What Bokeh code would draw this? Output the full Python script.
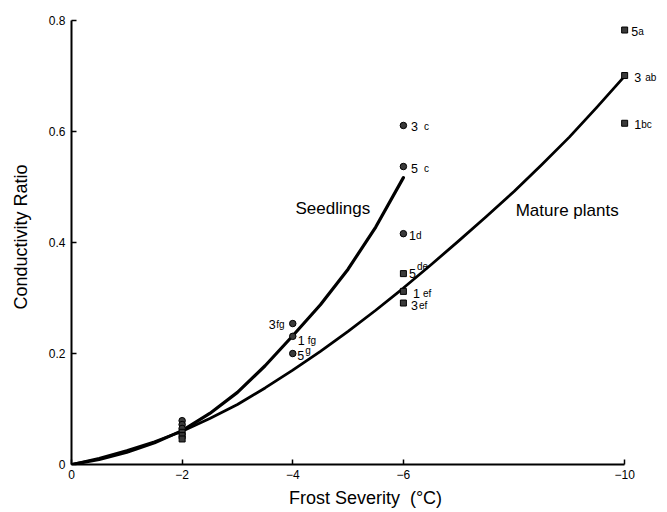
from bokeh.plotting import figure
from bokeh.models import Range1d, FixedTicker, ColumnDataSource, Label
from bokeh.core.properties import value
from bokeh.embed import file_html
from bokeh.resources import INLINE

# ---- data (frost severity magnitude, conductivity ratio) ----
seed_x = [6, 6, 6, 4, 4, 4, 2, 2, 2]
seed_y = [0.611, 0.537, 0.416, 0.254, 0.231, 0.200, 0.079, 0.072, 0.065]
seed_num = ["3", "5", "1", "3", "1", "5"]
seed_grp = ["c", "c", "d", "fg", "fg", "g"]

mature_x = [10, 10, 10, 6, 6, 6, 2, 2, 2]
mature_y = [0.783, 0.701, 0.615, 0.344, 0.312, 0.291, 0.058, 0.052, 0.046]
mature_num = ["5", "3", "1", "5", "1", "3"]
mature_grp = ["a", "ab", "bc", "de", "ef", "ef"]

seed_curve_x = [0, 0.5, 1, 1.5, 2, 2.5, 3, 3.5, 4, 4.5, 5, 5.5, 6]
seed_curve_y = [0, 0.009, 0.022, 0.039, 0.061, 0.092, 0.130, 0.178, 0.232,
                0.288, 0.352, 0.428, 0.517]
mature_curve_x = [0, 0.5, 1, 1.5, 2, 2.5, 3, 3.5, 4, 4.5, 5, 5.5, 6, 6.5, 7,
                  7.5, 8, 8.5, 9, 9.5, 10]
mature_curve_y = [0, 0.011, 0.025, 0.041, 0.060, 0.083, 0.108, 0.138, 0.170,
                  0.204, 0.240, 0.278, 0.318, 0.360, 0.403, 0.447, 0.492,
                  0.540, 0.590, 0.644, 0.700]

x_ticks = [0, 2, 4, 6, 10]
x_tick_labels = ["0", "\u22122", "\u22124", "\u22126", "\u221210"]
y_ticks = [0, 0.2, 0.4, 0.6, 0.8]
y_tick_labels = ["0", "0.2", "0.4", "0.6", "0.8"]

# ---- label offsets in px (number dx, dy, letters dx, dy) ----
label_style = [
    (7.5, 1.5, 20.5, 1.5),   # 3 c
    (7.5, 1.5, 20.5, 1.5),   # 5 c
    (5.5, 1.5, 12.5, 1.5),   # 1 d
    (-24, 1, -16.5, 1),      # 3 fg
    (5, 4.5, 15, 4.5),       # 1 fg
    (4.5, 1.5, 12.5, -3.5),  # 5 g
    (6.5, 1.5, 13.5, 1.5),   # 5 a
    (9.5, 1.5, 20.5, 1.5),   # 3 ab
    (9.5, 1.5, 16.5, 1.5),   # 1 bc
    (5.5, 0, 13.5, -7),      # 5 de
    (9.5, 2, 19.5, 2),       # 1 ef
    (7.5, 2, 15.5, 2),       # 3 ef
]

FONT = value("Liberation Sans")

p = figure(frame_width=588, frame_height=455,
           x_range=Range1d(0, 10.63), y_range=Range1d(0, 0.82),
           output_backend="svg", toolbar_location=None,
           min_border_left=71, min_border_top=9, min_border_right=0,
           min_border_bottom=40)
p.grid.visible = False
p.outline_line_color = None
p.background_fill_color = "white"

for ax in (p.xaxis[0], p.yaxis[0]):
    ax.axis_line_width = 2
    ax.axis_line_color = "black"
    ax.major_tick_in = 5
    ax.major_tick_out = 0
    ax.major_tick_line_width = 1.5
    ax.minor_tick_line_color = None
    ax.major_label_text_font = "Liberation Sans"
    ax.major_label_text_font_size = "12px"
    ax.major_label_text_color = "black"
    ax.axis_label_text_font = "Liberation Sans"
    ax.axis_label_text_font_size = "18px"
    ax.axis_label_text_font_style = "normal"
    ax.axis_label_text_color = "black"

xa = p.xaxis[0]
xa.ticker = FixedTicker(ticks=x_ticks)
xa.major_label_overrides = {t: l for t, l in zip(x_ticks, x_tick_labels)}
xa.bounds = (0, 10)
xa.axis_label = "Frost Severity\u00a0\u00a0(\u00b0C)"
xa.major_label_standoff = 5
xa.axis_label_standoff = 6

ya = p.yaxis[0]
ya.ticker = FixedTicker(ticks=y_ticks)
ya.major_label_overrides = {t: l for t, l in zip(y_ticks, y_tick_labels)}
ya.bounds = (0, 0.8)
ya.axis_label = "Conductivity Ratio"
ya.major_label_standoff = 6
ya.axis_label_standoff = 15

# curves
p.line(seed_curve_x, seed_curve_y, line_width=3.2, line_color="black",
       line_cap="round", line_join="round")
p.line(mature_curve_x, mature_curve_y, line_width=2.8, line_color="black",
       line_cap="round", line_join="round")

# markers
p.scatter(seed_x, seed_y, marker="circle", size=6.5, fill_color="#3a3a3a",
          line_color="black", line_width=1)
p.scatter(mature_x, mature_y, marker="square", size=6, fill_color="#3a3a3a",
          line_color="black", line_width=1)

# point labels
lab_x = seed_x[:6] + mature_x[:6]
lab_y = seed_y[:6] + mature_y[:6]
lab_num = seed_num + mature_num
lab_grp = seed_grp + mature_grp
src = ColumnDataSource(dict(
    x=lab_x, y=lab_y, num=lab_num, grp=lab_grp,
    dxn=[s[0] for s in label_style], dyn=[s[1] for s in label_style],
    dxl=[s[2] for s in label_style], dyl=[s[3] for s in label_style],
))
p.text(x="x", y="y", text="num", x_offset="dxn", y_offset="dyn", source=src,
       text_font=FONT, text_font_size="12.5px", text_color="black",
       text_align="left", text_baseline="alphabetic")
p.text(x="x", y="y", text="grp", x_offset="dxl", y_offset="dyl", source=src,
       text_font=FONT, text_font_size="10px", text_color="black",
       text_align="left", text_baseline="alphabetic")

# curve names
p.add_layout(Label(x=4.05, y=0.461, text="Seedlings", text_font="Liberation Sans",
                   text_font_size="17px", text_color="black",
                   text_baseline="middle", text_align="left"))
p.add_layout(Label(x=8.03, y=0.458, text="Mature plants", text_font="Liberation Sans",
                   text_font_size="17px", text_color="black",
                   text_baseline="middle", text_align="left"))

open("out.html", "w").write(file_html(p, INLINE))
